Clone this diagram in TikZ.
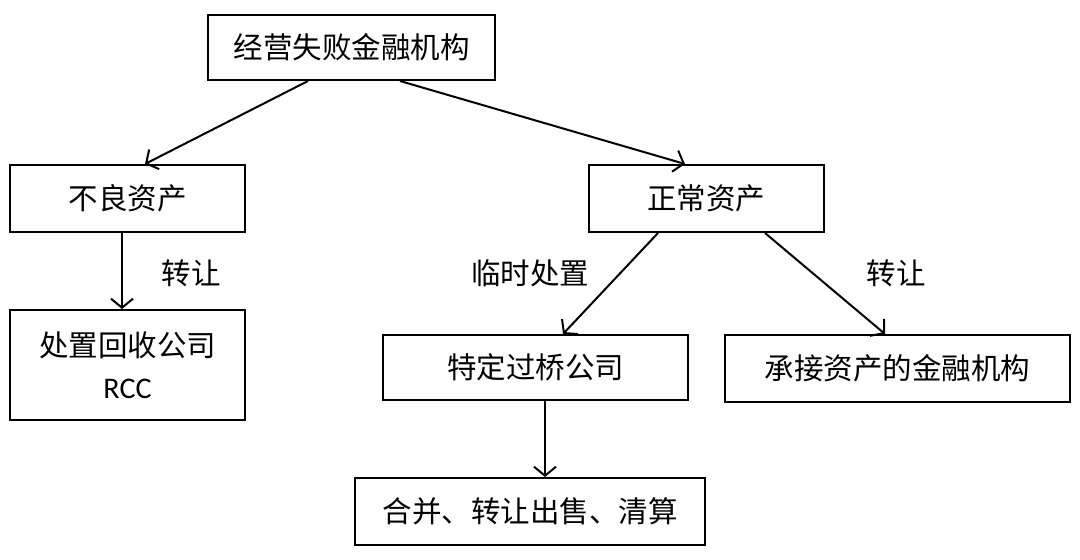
\documentclass[tikz,border=0pt]{standalone}
\usepackage{fontspec}
\setmainfont{Carlito}
\newfontfamily\cjk{Noto Sans CJK SC}
\usetikzlibrary{arrows.meta}
\begin{document}
\begin{tikzpicture}[x=1pt,y=-1pt,
  box/.style={draw,line width=2pt,minimum width=#1,inner sep=0pt,font=\cjk\fontsize{29.5}{34}\selectfont},
  arr/.style={line width=2pt,-{Straight Barb[length=9pt,width=22pt,line width=2pt]}},
  lbl/.style={font=\cjk\fontsize{29.5}{34}\selectfont}]
\useasboundingbox (0,0) rectangle (1080,560);
\node[box=287pt,minimum height=65pt] (top) at (351.5,47.5) {经营失败金融机构};
\node[box=235pt,minimum height=67pt] (bad) at (127.5,198.5) {不良资产};
\node[box=235pt,minimum height=67pt] (normal) at (706,198.5) {正常资产};
\node[box=235pt,minimum height=110pt,align=center] (rcc) at (127.5,365) {处置回收公司\\[8pt]{\fontspec{Carlito}\fontsize{30}{34}\selectfont RCC}};
\node[box=305pt,minimum height=65pt] (bridge) at (535.5,367.5) {特定过桥公司};
\node[box=345pt,minimum height=67pt] (recv) at (897.5,368.5) {承接资产的金融机构};
\node[box=350pt,minimum height=67pt] (merge) at (530,511.5) {合并、转让出售、清算};
\draw[arr] ([xshift=-43.5pt]top.south) -- ([xshift=17.5pt]bad.north);
\draw[arr] ([xshift=48.5pt]top.south) -- ([xshift=-21pt]normal.north);
\draw[arr] ([xshift=-5.5pt]bad.south) -- ([xshift=-5.5pt]rcc.north);
\draw[arr] ([xshift=-48pt]normal.south) -- ([xshift=27.5pt]bridge.north);
\draw[arr] ([xshift=59pt]normal.south) -- ([xshift=-12.5pt]recv.north);
\draw[arr] ([xshift=9.5pt]bridge.south) -- ([xshift=15pt]merge.north);
\node[lbl] (l1) at (191,273) {转让};
\node[lbl] (l2) at (530,273) {临时处置};
\node[lbl] (l3) at (896,273) {转让};
\end{tikzpicture}
\end{document}
